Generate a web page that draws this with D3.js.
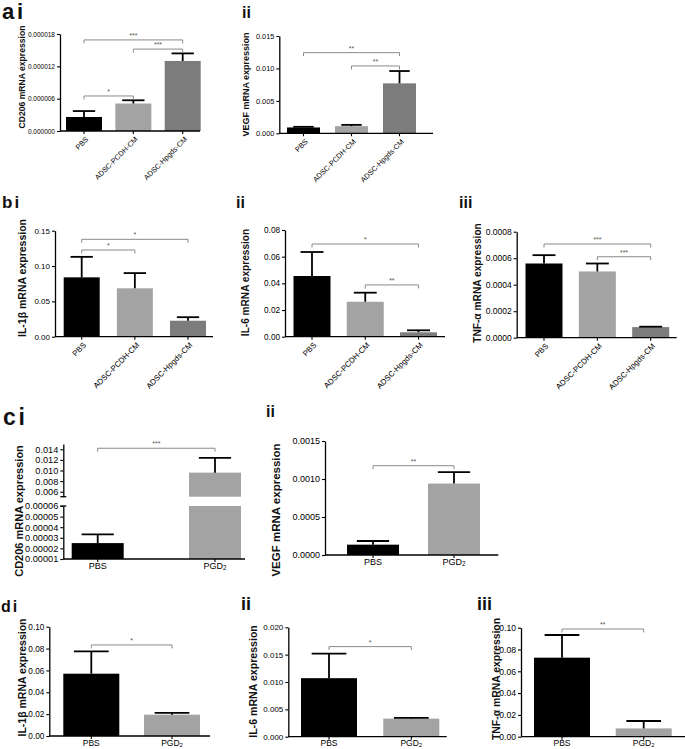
<!DOCTYPE html>
<html><head><meta charset="utf-8">
<script src="https://cdn.jsdelivr.net/npm/d3@7"></script>
<style>body{margin:0;background:#fff}svg{display:block}</style>
</head><body>
<svg id="fig" width="685" height="749"></svg>
<script>
// ---------- data ----------
const groups3 = ["PBS", "ADSC-PCDH-CM", "ADSC-Hpgds-CM"];
const groups2 = ["PBS", "PGD2"];
const colors3 = ["#000000", "#a3a3a3", "#7c7c7c"];
const colors2 = ["#000000", "#a3a3a3"];

// a i  CD206
const aiMean = [0.0000026, 0.0000051, 0.0000130];
const aiSem = [0.0000011, 0.0000006, 0.0000014];
const aiTicks = [0, 0.000006, 0.000012, 0.000018];
const aiSig = [[0, 2, "***", 0.0000169], [1, 2, "***", 0.0000152], [0, 1, "*", 0.0000065]];
// a ii VEGF
const aiiMean = [0.0009, 0.0011, 0.0077];
const aiiSem = [0.0001, 0.0002, 0.0019];
const aiiTicks = [0, 0.005, 0.010, 0.015];
const aiiSig = [[0, 2, "**", 0.01243], [1, 2, "**", 0.01038]];
// b i IL-1β
const biMean = [0.084, 0.0685, 0.0226];
const biSem = [0.029, 0.0215, 0.005];
const biTicks = [0, 0.05, 0.10, 0.15];
const biSig = [[0, 2, "*", 0.1378], [0, 1, "*", 0.1227]];
// b ii IL-6
const biiMean = [0.0455, 0.0262, 0.0033];
const biiSem = [0.018, 0.0068, 0.0015];
const biiTicks = [0, 0.02, 0.04, 0.06, 0.08];
const biiSig = [[0, 2, "*", 0.0695], [1, 2, "**", 0.0388]];
// b iii TNF-α
const biiiMean = [0.00056, 0.00050, 0.00008];
const biiiSem = [0.000063, 0.00006, 0.000003];
const biiiTicks = [0, 0.0002, 0.0004, 0.0006, 0.0008];
const biiiSig = [[0, 2, "***", 0.000707], [1, 2, "***", 0.000611]];
// c i CD206 (broken axis)
const ciMean = [0.000025, 0.0096];
const ciSem = [0.0000083, 0.0028];
const ciTicksUpper = [0.006, 0.008, 0.010, 0.012, 0.014];
const ciTicksLower = [0.00001, 0.00002, 0.00003, 0.00004, 0.00005, 0.00006];
const ciSig = [[0, 1, "***", 0.0142]];
// c ii VEGF
const ciiMean = [0.000136, 0.00094];
const ciiSem = [0.000048, 0.00015];
const ciiTicks = [0, 0.0005, 0.0010, 0.0015];
const ciiSig = [[0, 1, "**", 0.001175]];
// d i IL-1β
const diMean = [0.057, 0.0195];
const diSem = [0.0205, 0.0017];
const diTicks = [0, 0.02, 0.04, 0.06, 0.08, 0.10];
const diSig = [[0, 1, "*", 0.0833]];
// d ii IL-6
const diiMean = [0.0107, 0.0033];
const diiSem = [0.0045, 0.00015];
const diiTicks = [0, 0.005, 0.010, 0.015, 0.020];
const diiSig = [[0, 1, "*", 0.01647]];
// d iii TNF-α
const diiiMean = [0.0725, 0.0076];
const diiiSem = [0.0208, 0.0068];
const diiiTicks = [0, 0.02, 0.04, 0.06, 0.08, 0.10];
const diiiSig = [[0, 1, "**", 0.0988]];

// ---------- drawing ----------
const FONT = "'Liberation Sans', Arial, Helvetica, sans-serif";
const svg = d3.select("#fig");

function xLabel(g, name, cx, yBot, fs, rotated) {
  if (rotated) {
    g.append("text")
      .attr("transform", `translate(${cx + 3},${yBot + 7}) rotate(-45)`)
      .attr("text-anchor", "end").attr("dy", "0.35em")
      .attr("font-family", FONT).attr("font-size", fs).attr("fill", "#000")
      .text(name);
  } else {
    const t = g.append("text").attr("x", cx).attr("y", yBot + fs + 1)
      .attr("text-anchor", "middle").attr("font-family", FONT)
      .attr("font-size", fs).attr("fill", "#000");
    if (name === "PGD2") {
      t.text("PGD");
      t.append("tspan").attr("font-size", fs * 0.7).attr("dy", 1).text("2");
    } else t.text(name);
  }
}

function drawBarsAndErr(g, x, y, groups, means, sems, colors, L, yBase) {
  groups.forEach((gname, i) => {
    const cx = x(gname);
    g.append("rect").attr("x", cx - L.barW / 2).attr("y", y(means[i]))
      .attr("width", L.barW).attr("height", Math.max(0, yBase - y(means[i])))
      .attr("fill", colors[i]);
    const yt = y(means[i] + sems[i]);
    const capW = L.barW * 0.62;
    g.append("line").attr("x1", cx).attr("x2", cx).attr("y1", y(means[i])).attr("y2", yt)
      .attr("stroke", "#000").attr("stroke-width", 1.8);
    g.append("line").attr("x1", cx - capW / 2).attr("x2", cx + capW / 2).attr("y1", yt).attr("y2", yt)
      .attr("stroke", "#000").attr("stroke-width", 1.8);
  });
}

function drawSig(g, x, y, groups, sig) {
  sig.forEach(([i, j, lab, v]) => {
    const x1 = x(groups[i]), x2 = x(groups[j]), yy = y(v);
    g.append("path").attr("d", `M${x1},${yy + 3.5}V${yy}H${x2}V${yy + 3.5}`)
      .attr("fill", "none").attr("stroke", "#8a8a8a").attr("stroke-width", 1);
    g.append("text").attr("x", (x1 + x2) / 2).attr("y", yy - 2)
      .attr("text-anchor", "middle").attr("font-family", FONT)
      .attr("font-size", 7).attr("fill", "#555").text(lab);
  });
}

function styleAxis(sel, fs) {
  sel.selectAll("path.domain").attr("stroke", "#000").attr("stroke-width", 1.3);
  sel.selectAll(".tick line").attr("stroke", "#000").attr("stroke-width", 1.1);
  sel.selectAll(".tick text").attr("font-family", FONT).attr("font-size", fs).attr("fill", "#000");
}

function drawXAxis(g, x, groups, L) {
  g.append("line").attr("x1", L.ax).attr("x2", L.axEnd).attr("y1", L.yBot).attr("y2", L.yBot)
    .attr("stroke", "#000").attr("stroke-width", 1.3);
  groups.forEach(gn => {
    g.append("line").attr("x1", x(gn)).attr("x2", x(gn)).attr("y1", L.yBot).attr("y2", L.yBot + 3)
      .attr("stroke", "#000").attr("stroke-width", 1.1);
  });
}

function drawTitle(g, text, L) {
  g.append("text").attr("transform", `translate(${L.titleX},${L.titleY}) rotate(-90)`)
    .attr("text-anchor", "middle").attr("dy", "0.35em")
    .attr("font-family", FONT).attr("font-weight", "bold").attr("font-size", L.titleFs)
    .attr("fill", "#111").text(text);
}

function panel(P) {
  const L = P.L;
  const g = svg.append("g");
  const x = d3.scalePoint().domain(P.groups).range([L.c0, L.c1]);
  const y = d3.scaleLinear().domain([P.ticks[0], P.ticks[P.ticks.length - 1]]).range([L.yBot, L.yTop]);
  drawBarsAndErr(g, x, y, P.groups, P.means, P.sems, P.colors, L, L.yBot);
  const ya = g.append("g").attr("transform", `translate(${L.ax},0)`)
    .call(d3.axisLeft(y).tickValues(P.ticks).tickFormat(d3.format(P.fmt)).tickSize(3).tickSizeOuter(0).tickPadding(2));
  styleAxis(ya, L.tickFs);
  drawXAxis(g, x, P.groups, L);
  P.groups.forEach(gn => xLabel(g, gn, x(gn), L.yBot, L.xFs, L.rot));
  drawSig(g, x, y, P.groups, P.sig);
  drawTitle(g, P.title, L);
}

function label(letter, roman, x, y, fs) {
  const t = svg.append("text").attr("x", x).attr("y", y).attr("font-family", FONT)
    .attr("font-weight", "bold").attr("font-size", fs).attr("fill", "#111");
  if (letter) {
    t.append("tspan").text(letter);
    t.append("tspan").attr("dx", fs * 0.12).text(roman);
  } else t.text(roman);
}

panel({ groups: groups3, means: aiMean, sems: aiSem, colors: colors3, ticks: aiTicks, fmt: ".6f", sig: aiSig,
  title: "CD206 mRNA expression",
  L: { ax: 60, yTop: 34, yBot: 131, c0: 84, c1: 182.7, barW: 36, axEnd: 200, titleX: 22, titleY: 77, tickFs: 6.5, titleFs: 8.6, xFs: 7.3, rot: true } });
panel({ groups: groups3, means: aiiMean, sems: aiiSem, colors: colors3, ticks: aiiTicks, fmt: ".3f", sig: aiiSig,
  title: "VEGF mRNA expression",
  L: { ax: 279.3, yTop: 36, yBot: 133.3, c0: 303.5, c1: 399.5, barW: 33, axEnd: 433, titleX: 246, titleY: 84.5, tickFs: 7.3, titleFs: 9, xFs: 7.3, rot: true } });
panel({ groups: groups3, means: biMean, sems: biSem, colors: colors3, ticks: biTicks, fmt: ".2f", sig: biSig,
  title: "IL-1β mRNA expression",
  L: { ax: 55, yTop: 230.7, yBot: 336.7, c0: 81.7, c1: 188, barW: 36, axEnd: 213, titleX: 22, titleY: 278, tickFs: 8, titleFs: 10.5, xFs: 7.8, rot: true } });
panel({ groups: groups3, means: biiMean, sems: biiSem, colors: colors3, ticks: biiTicks, fmt: ".2f", sig: biiSig,
  title: "IL-6 mRNA expression",
  L: { ax: 285, yTop: 230, yBot: 336.7, c0: 312, c1: 418.5, barW: 37, axEnd: 445, titleX: 245, titleY: 282.5, tickFs: 8.2, titleFs: 10.1, xFs: 7.8, rot: true } });
panel({ groups: groups3, means: biiiMean, sems: biiiSem, colors: colors3, ticks: biiiTicks, fmt: ".4f", sig: biiiSig,
  title: "TNF-α mRNA expression",
  L: { ax: 516.7, yTop: 231.7, yBot: 337.7, c0: 544, c1: 650.7, barW: 37, axEnd: 676.7, titleX: 477, titleY: 283, tickFs: 8.5, titleFs: 10.2, xFs: 7.8, rot: true } });
panel({ groups: groups2, means: ciiMean, sems: ciiSem, colors: colors2, ticks: ciiTicks, fmt: ".4f", sig: ciiSig,
  title: "VEGF mRNA expression",
  L: { ax: 325, yTop: 441, yBot: 555, c0: 373, c1: 454, barW: 52, axEnd: 498.3, titleX: 276, titleY: 510, tickFs: 9, titleFs: 11.5, xFs: 9, rot: false } });
panel({ groups: groups2, means: diMean, sems: diSem, colors: colors2, ticks: diTicks, fmt: ".2f", sig: diSig,
  title: "IL-1β mRNA expression",
  L: { ax: 49.3, yTop: 626.7, yBot: 736, c0: 91.3, c1: 172, barW: 56, axEnd: 210, titleX: 22, titleY: 677.5, tickFs: 8.2, titleFs: 10.5, xFs: 8.5, rot: false } });
panel({ groups: groups2, means: diiMean, sems: diiSem, colors: colors2, ticks: diiTicks, fmt: ".3f", sig: diiSig,
  title: "IL-6 mRNA expression",
  L: { ax: 288.3, yTop: 627.3, yBot: 736.7, c0: 329, c1: 411.3, barW: 56, axEnd: 446.7, titleX: 253, titleY: 681.5, tickFs: 8, titleFs: 10.6, xFs: 8.5, rot: false } });
panel({ groups: groups2, means: diiiMean, sems: diiiSem, colors: colors2, ticks: diiiTicks, fmt: ".2f", sig: diiiSig,
  title: "TNF-α mRNA expression",
  L: { ax: 521, yTop: 627.7, yBot: 736.7, c0: 562, c1: 643.7, barW: 56, axEnd: 685, titleX: 496, titleY: 679, tickFs: 8.6, titleFs: 10.4, xFs: 8.5, rot: false } });

// c i : broken axis
(function () {
  const L = { ax: 63.3, upTop: 444, upBot: 496.7, loTop: 506, loBot: 559, c0: 97.7, c1: 215, barW: 52, axEnd: 245, titleX: 19, titleY: 511, tickFs: 9.2, titleFs: 11, xFs: 9 };
  const g = svg.append("g");
  const x = d3.scalePoint().domain(groups2).range([L.c0, L.c1]);
  const yUp = d3.scaleLinear().domain([0.00506, 0.015]).range([L.upBot, L.upTop]);
  const yLo = d3.scaleLinear().domain([0.00001, 0.00006]).range([L.loBot, L.loTop]);
  groups2.forEach((gn, i) => {
    const cx = x(gn), m = ciMean[i], s = ciSem[i];
    const ys = m > 0.00006 ? yUp : yLo;
    if (m > 0.00006) {
      g.append("rect").attr("x", cx - L.barW / 2).attr("y", yUp(m)).attr("width", L.barW)
        .attr("height", L.upBot - yUp(m)).attr("fill", colors2[i]);
      g.append("rect").attr("x", cx - L.barW / 2).attr("y", L.loTop).attr("width", L.barW)
        .attr("height", L.loBot - L.loTop).attr("fill", colors2[i]);
    } else {
      g.append("rect").attr("x", cx - L.barW / 2).attr("y", yLo(m)).attr("width", L.barW)
        .attr("height", L.loBot - yLo(m)).attr("fill", colors2[i]);
    }
    const yt = ys(m + s), capW = L.barW * 0.62;
    g.append("line").attr("x1", cx).attr("x2", cx).attr("y1", ys(m)).attr("y2", yt).attr("stroke", "#000").attr("stroke-width", 1.8);
    g.append("line").attr("x1", cx - capW / 2).attr("x2", cx + capW / 2).attr("y1", yt).attr("y2", yt).attr("stroke", "#000").attr("stroke-width", 1.8);
  });
  const a1 = g.append("g").attr("transform", `translate(${L.ax},0)`)
    .call(d3.axisLeft(yUp).tickValues(ciTicksUpper).tickFormat(d3.format(".3f")).tickSize(3).tickSizeOuter(0).tickPadding(2));
  const a2 = g.append("g").attr("transform", `translate(${L.ax},0)`)
    .call(d3.axisLeft(yLo).tickValues(ciTicksLower).tickFormat(d3.format(".5f")).tickSize(3).tickSizeOuter(0).tickPadding(2));
  styleAxis(a1, L.tickFs); styleAxis(a2, L.tickFs);
  [L.upBot, L.loTop].forEach(yy => g.append("line").attr("x1", L.ax - 3).attr("x2", L.ax + 3)
    .attr("y1", yy).attr("y2", yy).attr("stroke", "#000").attr("stroke-width", 1.3));
  drawXAxis(g, x, groups2, { ax: L.ax, axEnd: L.axEnd, yBot: L.loBot });
  groups2.forEach(gn => xLabel(g, gn, x(gn), L.loBot, L.xFs, false));
  drawSig(g, x, yUp, groups2, ciSig);
  drawTitle(g, "CD206 mRNA expression", L);
})();

// panel letters
label("a", "i", 2, 19, 22);
label(null, "ii", 242, 18, 16);
label("b", "i", 2, 208, 17);
label(null, "ii", 236, 208, 16);
label(null, "iii", 459, 208, 16);
label("c", "i", 3, 425, 23);
label(null, "ii", 266, 417, 16);
label("d", "i", 1, 612, 16);
label(null, "ii", 241, 610, 18);
label(null, "iii", 477, 610, 18);
</script>
</body></html>
